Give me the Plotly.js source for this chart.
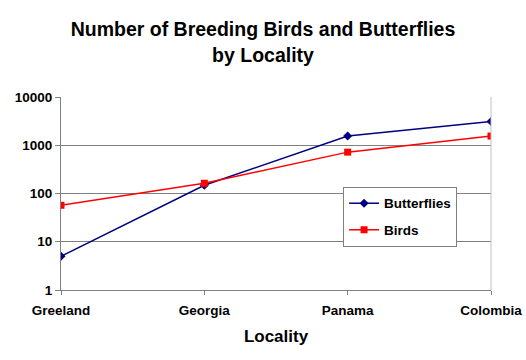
<!DOCTYPE html>
<html>
<head>
<meta charset="utf-8">
<script src="https://cdn.plot.ly/plotly-3.0.1.min.js"></script>
<style>html,body{margin:0;padding:0;background:#fff;}#chart{width:526px;height:360px;}</style>
</head>
<body>
<div id="chart"></div>
<script>
const localities = ["Greeland", "Georgia", "Panama", "Colombia"];
const butterflies = [5, 148, 1550, 3100];
const birds = [57, 163, 720, 1550];
const yTickVals = [1, 10, 100, 1000, 10000];
const yTickText = ["1", "10", "100", "1000", "10000"];

const font = "Liberation Sans, Arial, sans-serif";
const data = [
  {x: localities, y: butterflies, name: "Butterflies", legendgroup: "a", type: "scatter", mode: "lines+markers",
   line: {color: "#000080", width: 1.5}, marker: {symbol: "diamond", size: 7, color: "#000080"}},
  {x: localities, y: birds, name: "Birds", legendgroup: "b", type: "scatter", mode: "lines+markers",
   line: {color: "#FF0000", width: 1.5}, marker: {symbol: "square", size: 7, color: "#FF0000"}}
];
const layout = {
  width: 526, height: 360,
  margin: {l: 61, r: 35, t: 97, b: 70},
  paper_bgcolor: "#fff", plot_bgcolor: "#fff",
  font: {family: font, color: "#000"},
  title: {text: "<b>Number of Breeding Birds and Butterflies<br>by Locality</b>",
          font: {family: font, size: 19.5, color: "#000"}, x: 0.5, xanchor: "center", y: 0.899, yanchor: "middle"},
  xaxis: {type: "category", range: [0, 3], showgrid: false, zeroline: false,
          showline: true, linecolor: "#808080", linewidth: 1, ticks: "outside", ticklen: 4, tickcolor: "#808080",
          ticklabelstandoff: 4,
          tickfont: {family: font, size: 13.5, color: "#000", weight: "bold"},
          title: {text: "<b>Locality</b>", font: {family: font, size: 17, color: "#000"}, standoff: 12}},
  yaxis: {type: "log", range: [0, 4], tickvals: yTickVals, ticktext: yTickText,
          showgrid: true, gridcolor: "#808080", gridwidth: 1, zeroline: false,
          showline: true, linecolor: "#808080", linewidth: 1, ticks: "outside", ticklen: 5, tickcolor: "#808080",
          tickfont: {family: font, size: 13.5, color: "#000", weight: "bold"}},
  shapes: [{type: "line", xref: "paper", yref: "paper", x0: 1, x1: 1, y0: 0, y1: 1,
            line: {color: "#c0c0c0", width: 1}}],
  showlegend: true,
  legend: {x: 0.656, y: 0.534, xanchor: "left", yanchor: "top", bgcolor: "#fff",
           bordercolor: "#808080", borderwidth: 1, traceorder: "grouped", tracegroupgap: 6,
           font: {family: font, size: 13.5, color: "#000", weight: "bold"},
           itemwidth: 30}
};
Plotly.newPlot("chart", data, layout, {displayModeBar: false, staticPlot: true});
</script>
</body>
</html>
